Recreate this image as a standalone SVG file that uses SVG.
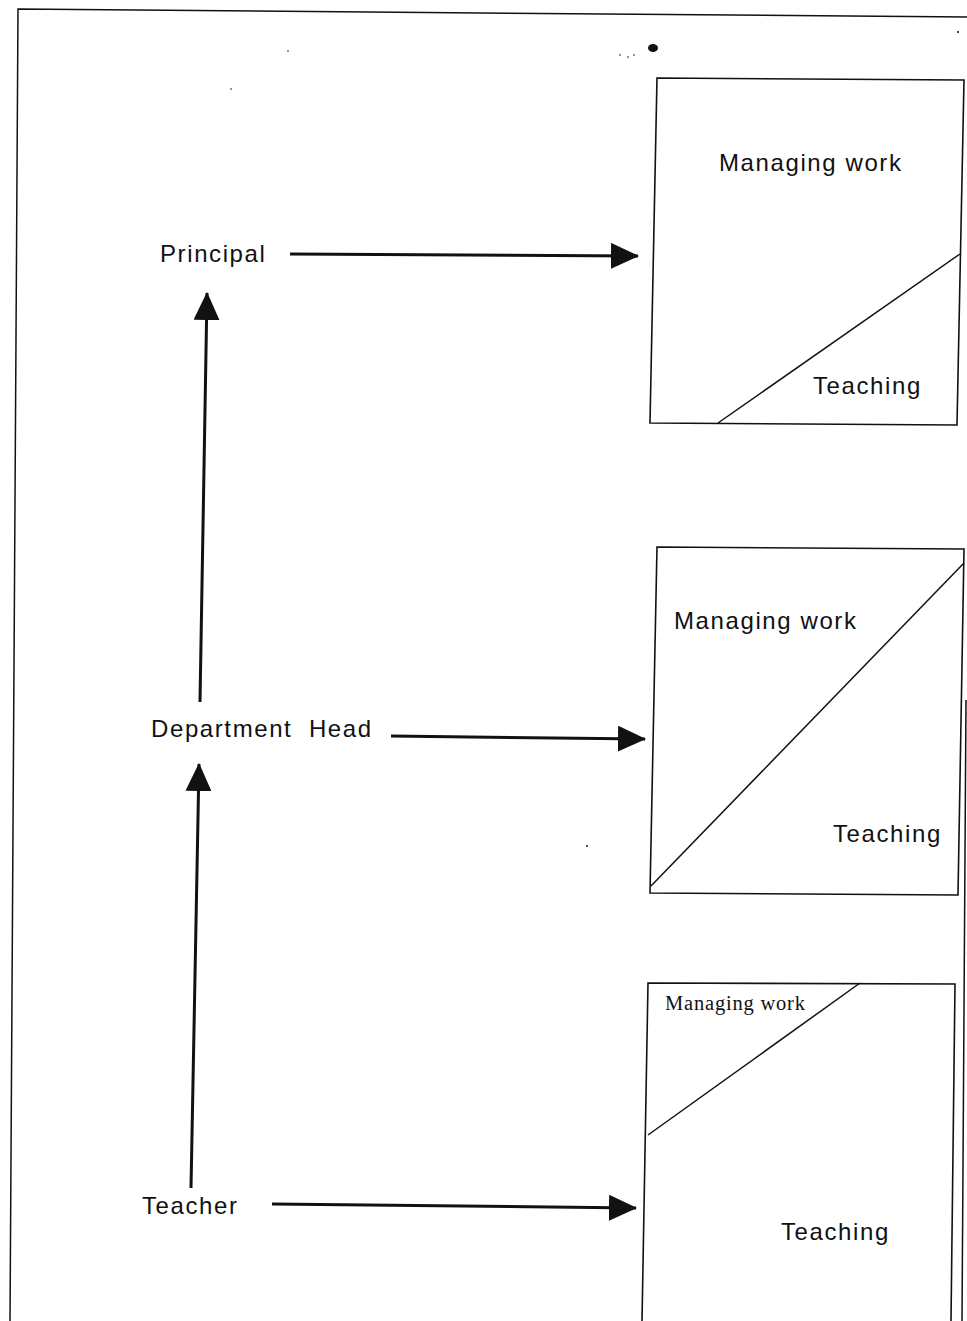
<svg xmlns="http://www.w3.org/2000/svg" width="967" height="1321" viewBox="0 0 967 1321">
<style>
.lbl{font-family:"Liberation Sans",Arial,sans-serif;font-size:24px;letter-spacing:1.6px;fill:#111}
.ser{font-family:"Liberation Serif","Times New Roman",serif;font-size:20.5px;letter-spacing:0.8px;fill:#111}
.box{fill:none;stroke:#111;stroke-width:1.6}
.edge{fill:none;stroke:#111;stroke-width:3}
.thin{fill:none;stroke:#111;stroke-width:1.5}
</style>
<defs>
<marker id="big" viewBox="0 0 28 26" refX="27" refY="13" markerWidth="28" markerHeight="26" orient="auto" markerUnits="userSpaceOnUse">
<path d="M0,0 L28,13 L0,26 Z" fill="#111"/>
</marker>
</defs>
<rect width="967" height="1321" fill="#fff"/>
<g id="page">
<path class="thin" d="M10,1321 L18,9 L967,17"/>
<line class="thin" x1="966" y1="700" x2="962" y2="1321"/>
<ellipse cx="653" cy="48" rx="5" ry="4" fill="#111"/>
<circle cx="620" cy="55" r="0.8" fill="#111"/>
<circle cx="628" cy="57" r="0.8" fill="#111"/>
<circle cx="634" cy="55" r="0.8" fill="#111"/>
<circle cx="958" cy="32" r="1" fill="#111"/>
<circle cx="288" cy="51" r="0.8" fill="#111"/>
<circle cx="231" cy="89" r="0.8" fill="#111"/>
<circle cx="587" cy="846" r="1" fill="#111"/>
</g>
<g id="connectors">
<line class="edge" x1="290" y1="254" x2="638" y2="256" marker-end="url(#big)"/>
<line class="edge" x1="391" y1="736" x2="645" y2="739" marker-end="url(#big)"/>
<line class="edge" x1="272" y1="1204" x2="636" y2="1208" marker-end="url(#big)"/>
<line class="edge" x1="200" y1="702" x2="207" y2="293" marker-end="url(#big)"/>
<line class="edge" x1="191" y1="1188" x2="199" y2="764" marker-end="url(#big)"/>
</g>
<g id="principal"><text class="lbl" x="160" y="262">Principal</text></g>
<g id="department-head"><text class="lbl" x="151" y="737" xml:space="preserve">Department  Head</text></g>
<g id="teacher"><text class="lbl" x="142" y="1214">Teacher</text></g>
<g id="box-principal">
<path class="box" d="M657,78 L964,80 L957,425 L650,423 Z"/>
<line class="thin" x1="718" y1="423" x2="960" y2="254"/>
<text class="lbl" x="719" y="171">Managing work</text>
<text class="lbl" x="813" y="394">Teaching</text>
</g>
<g id="box-department-head">
<path class="box" d="M657,547 L964,549 L958,895 L650,893 Z"/>
<line class="thin" x1="651" y1="886" x2="964" y2="563"/>
<text class="lbl" x="674" y="629">Managing work</text>
<text class="lbl" x="833" y="842">Teaching</text>
</g>
<g id="box-teacher">
<path class="box" d="M642,1321 L648,983 L955,984 L951,1321"/>
<line class="thin" x1="648" y1="1135" x2="860" y2="983"/>
<text class="ser" x="665" y="1010">Managing work</text>
<text class="lbl" x="781" y="1240">Teaching</text>
</g>
</svg>
